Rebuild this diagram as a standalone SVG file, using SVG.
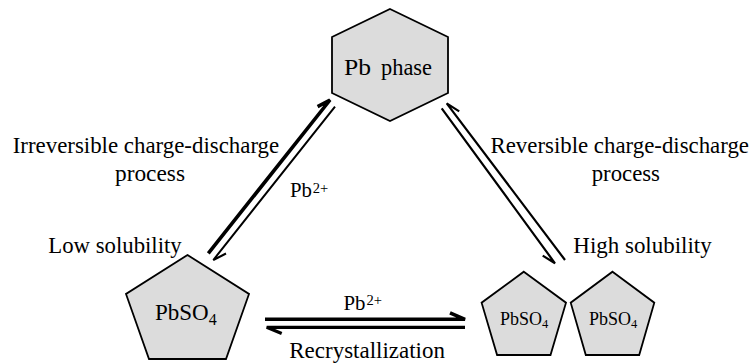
<svg xmlns="http://www.w3.org/2000/svg" width="755" height="363" viewBox="0 0 755 363">
<style>
.node{fill:#dcdcdc;stroke:#000;stroke-width:1.8;stroke-linejoin:miter}
.t{font-family:"Liberation Serif","Times New Roman",serif;fill:#000}
.arr{fill:none;stroke:#000;stroke-linejoin:miter;stroke-linecap:butt}
</style>
<rect width="755" height="363" fill="#fff"/>
<g id="pb-phase">
<polygon class="node" points="390,9 448,37 448,93 390,121 332,93 332,37"/>
<text class="t" font-size="23" x="344" y="75" textLength="27" lengthAdjust="spacingAndGlyphs">Pb</text>
<text class="t" font-size="23" x="381" y="75" textLength="51" lengthAdjust="spacingAndGlyphs">phase</text>
</g>
<g id="pbso4-low">
<polygon class="node" points="187.5,255 249,294 226,359 149,359 126,294"/>
<text class="t" font-size="23" x="155" y="320">PbSO<tspan font-size="16" dy="5">4</tspan></text>
</g>
<g id="pbso4-high-1">
<polygon class="node" points="523.8,271.7 566,302.7 550.5,355 497.1,355 481.6,302.7"/>
<text class="t" font-size="18" x="500" y="325">PbSO<tspan font-size="12.5" dy="3">4</tspan></text>
</g>
<g id="pbso4-high-2">
<polygon class="node" points="612.5,271.7 654.3,302.7 639.2,355 585.8,355 570.7,302.7"/>
<text class="t" font-size="18" x="589" y="325">PbSO<tspan font-size="12.5" dy="3">4</tspan></text>
</g>
<g id="connectors">
<path class="arr" stroke-width="3.6" d="M208.3,253.3 L330,100 L317.6,106.6"/>
<path class="arr" stroke-width="2" d="M335,106.7 L213.3,260 L226,253.5"/>
<path class="arr" stroke-width="2.2" d="M441.7,108.3 L555,263.3 L542.7,255.6"/>
<path class="arr" stroke-width="2.2" d="M565,260 L446.7,103.3 L459.2,111.4"/>
<path class="arr" stroke-width="3.6" d="M265,319.3 L465,319.3 L450,312.8"/>
<path class="arr" stroke-width="3.2" d="M465,327.3 L266.7,327.3 L281.7,333.6"/>
</g>
<g id="labels">
<text class="t" font-size="24" x="12.7" y="153" textLength="266.5" lengthAdjust="spacingAndGlyphs">Irreversible  charge-discharge</text>
<text class="t" font-size="24" x="115" y="181" textLength="70" lengthAdjust="spacingAndGlyphs">process</text>
<text class="t" font-size="22" x="0" y="0" transform="translate(490.5,153) scale(1,1.09)" textLength="258.5" lengthAdjust="spacingAndGlyphs">Reversible  charge-discharge</text>
<text class="t" font-size="24" x="591.7" y="181" textLength="68.3" lengthAdjust="spacingAndGlyphs">process</text>
<text class="t" font-size="24" x="48.3" y="253" textLength="133.4" lengthAdjust="spacingAndGlyphs">Low solubility</text>
<text class="t" font-size="24" x="573.3" y="253" textLength="138.4" lengthAdjust="spacingAndGlyphs">High solubility</text>
<text class="t" font-size="22" x="290" y="197" textLength="22" lengthAdjust="spacingAndGlyphs">Pb</text>
<text class="t" font-size="15" x="312.7" y="192.5" textLength="15.5" lengthAdjust="spacingAndGlyphs">2+</text>
<text class="t" font-size="22" x="343.5" y="309.5" textLength="22" lengthAdjust="spacingAndGlyphs">Pb</text>
<text class="t" font-size="15" x="366.5" y="305" textLength="15.5" lengthAdjust="spacingAndGlyphs">2+</text>
<text class="t" font-size="23" x="289.3" y="358" textLength="155.7" lengthAdjust="spacingAndGlyphs">Recrystallization</text>
</g>
</svg>
